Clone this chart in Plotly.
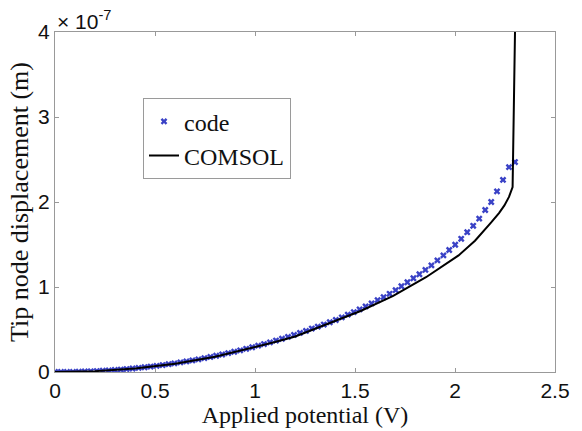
import plotly.graph_objects as go

# Applied potential (V) for the "code" samples
code_v = [0.000, 0.030, 0.060, 0.090, 0.119, 0.149, 0.179, 0.209, 0.239, 0.269,
          0.299, 0.329, 0.358, 0.388, 0.418, 0.448, 0.478, 0.508, 0.538, 0.568,
          0.597, 0.627, 0.657, 0.687, 0.717, 0.747, 0.777, 0.806, 0.836, 0.866,
          0.896, 0.926, 0.956, 0.986, 1.016, 1.045, 1.075, 1.105, 1.135, 1.165,
          1.195, 1.225, 1.255, 1.284, 1.314, 1.344, 1.374, 1.404, 1.434, 1.464,
          1.494, 1.523, 1.553, 1.583, 1.613, 1.643, 1.673, 1.703, 1.732, 1.762,
          1.792, 1.822, 1.852, 1.882, 1.912, 1.942, 1.971, 2.001, 2.031, 2.061,
          2.091, 2.121, 2.151, 2.181, 2.210, 2.240, 2.270, 2.300]
# Tip displacement (x 1e-7 m) for the "code" samples
code_d = [0.000, 0.000, 0.001, 0.002, 0.003, 0.006, 0.008, 0.011, 0.015, 0.019,
          0.024, 0.029, 0.035, 0.041, 0.048, 0.056, 0.064, 0.072, 0.082, 0.092,
          0.102, 0.113, 0.124, 0.136, 0.149, 0.163, 0.177, 0.191, 0.206, 0.222,
          0.238, 0.255, 0.273, 0.291, 0.310, 0.329, 0.349, 0.370, 0.391, 0.413,
          0.436, 0.460, 0.483, 0.511, 0.534, 0.558, 0.585, 0.612, 0.643, 0.675,
          0.705, 0.737, 0.772, 0.807, 0.846, 0.881, 0.920, 0.963, 1.009, 1.056,
          1.103, 1.150, 1.201, 1.255, 1.313, 1.372, 1.435, 1.497, 1.567, 1.645,
          1.720, 1.805, 1.906, 2.000, 2.125, 2.260, 2.410, 2.470]

# COMSOL reference curve
comsol_v = [0.0, 0.2, 0.4, 0.6, 0.8, 1.0, 1.1, 1.201, 1.364, 1.528, 1.691,
            1.855, 2.018, 2.100, 2.181, 2.220, 2.247, 2.270, 2.288, 2.300]
comsol_d = [0.0, 0.010, 0.042, 0.098, 0.180, 0.290, 0.352, 0.418, 0.565, 0.718,
            0.895, 1.115, 1.372, 1.545, 1.760, 1.870, 1.960, 2.060, 2.175, 4.0]

x_ticks = [0, 0.5, 1, 1.5, 2, 2.5]
x_tick_text = ["0", "0.5", "1", "1.5", "2", "2.5"]
y_ticks = [0, 1, 2, 3, 4]
y_tick_text = ["0", "1", "2", "3", "4"]

SERIF = "Liberation Serif, Times New Roman, serif"
SANS = "Liberation Sans, Arial, sans-serif"

fig = go.Figure()
fig.add_trace(go.Scatter(
    x=code_v, y=code_d, mode="markers", name="code",
    marker=dict(symbol="x", size=6, color="#3a42c6", line=dict(width=0)),
))
fig.add_trace(go.Scatter(
    x=comsol_v, y=comsol_d, mode="lines", name="COMSOL",
    line=dict(color="black", width=2),
))

axis_common = dict(
    showgrid=False, zeroline=False, showline=True, linecolor="#999999",
    linewidth=1, mirror="ticks", ticks="inside", ticklen=4, tickcolor="#999999",
    tickfont=dict(family=SANS, size=21, color="#111"),
)

fig.update_layout(
    width=582, height=431,
    margin=dict(l=55, r=17, t=32, b=57),
    paper_bgcolor="white", plot_bgcolor="white",
    xaxis=dict(range=[0, 2.5], tickvals=x_ticks, ticktext=x_tick_text,
               title=dict(text="Applied potential (V)", standoff=0,
                          font=dict(family=SERIF, size=24, color="#111")),
               **axis_common),
    yaxis=dict(range=[0, 4], tickvals=y_ticks, ticktext=y_tick_text,
               title=dict(text="Tip node displacement (m)", standoff=2,
                          font=dict(family=SERIF, size=26, color="#111")),
               **axis_common),
    legend=dict(x=0.176, y=0.805, xanchor="left", yanchor="top",
                bgcolor="white", bordercolor="#9a9a9a", borderwidth=1,
                font=dict(family=SERIF, size=24, color="#111"),
                tracegroupgap=0),
    showlegend=True,
    annotations=[dict(
        x=0, y=1, xref="paper", yref="paper", xanchor="left", yanchor="bottom",
        text="× 10<sup>-7</sup>", showarrow=False, xshift=0, yshift=-3,
        font=dict(family=SANS, size=21, color="#111"),
    )],
)

fig.write_html("out.html")
